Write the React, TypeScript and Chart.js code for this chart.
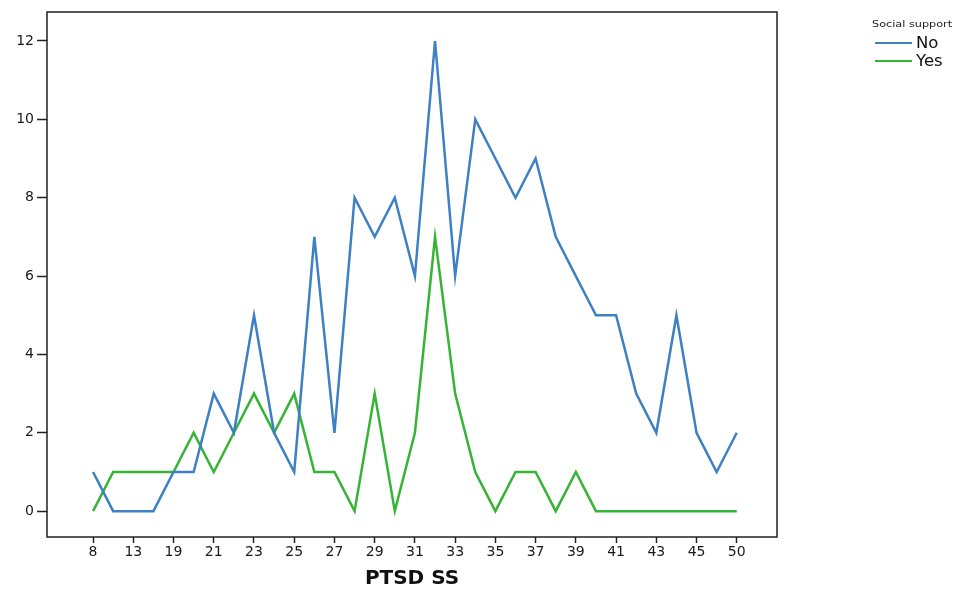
import React, { useEffect, useRef } from "react";
import { Chart, registerables } from "chart.js";

Chart.register(...registerables);

const categories = ["8", "10", "13", "16", "19", "20", "21", "22", "23", "24", "25", "26", "27", "28", "29", "30", "31", "32", "33", "34", "35", "36", "37", "38", "39", "40", "41", "42", "43", "44", "45", "48", "50"];
const noSupport = [1, 0, 0, 0, 1, 1, 3, 2, 5, 2, 1, 7, 2, 8, 7, 8, 6, 12, 6, 10, 9, 8, 9, 7, 6, 5, 5, 3, 2, 5, 2, 1, 2];
const yesSupport = [0, 1, 1, 1, 1, 2, 1, 2, 3, 2, 3, 1, 1, 0, 3, 0, 2, 7, 3, 1, 0, 1, 1, 0, 1, 0, 0, 0, 0, 0, 0, 0, 0];
const yTicks = [0, 2, 4, 6, 8, 10, 12];
const seriesNames = ["No", "Yes"];
const legendTitle = "Social support";
const xTitle = "PTSD SS";

const BLUE = "#3d80c4";
const GREEN = "#35b435";
const FONT = "DejaVu Sans, Liberation Sans, Arial";

const boxPlugin = {
  id: "box",
  afterDraw(chart: any) {
    const { ctx, chartArea } = chart;
    ctx.save();
    ctx.strokeStyle = "#222";
    ctx.lineWidth = 1.5;
    ctx.strokeRect(chartArea.left, chartArea.top, chartArea.right - chartArea.left, chartArea.bottom - chartArea.top);
    ctx.restore();
  },
};

export default function App() {
  const ref = useRef<HTMLCanvasElement | null>(null);
  useEffect(() => {
    if (!ref.current) return;
    const chart = new Chart(ref.current, {
      type: "line",
      data: {
        datasets: [
          {
            label: seriesNames[0],
            data: noSupport.map((v, i) => ({ x: i, y: v })),
            borderColor: BLUE,
            borderWidth: 2.5,
            pointRadius: 0,
            tension: 0,
          },
          {
            label: seriesNames[1],
            data: yesSupport.map((v, i) => ({ x: i, y: v })),
            borderColor: GREEN,
            borderWidth: 2.5,
            pointRadius: 0,
            tension: 0,
          },
        ],
      },
      options: {
        animation: false,
        responsive: false,
        maintainAspectRatio: false,
        layout: { padding: { top: 12, right: 182, left: 0, bottom: 0 } },
        plugins: { legend: { display: false }, tooltip: { enabled: false } },
        scales: {
          x: {
            type: "linear",
            min: -2.29,
            max: 34,
            afterBuildTicks: (scale: any) => {
              scale.ticks = categories.map((_, i) => ({ value: i })).filter((t) => t.value % 2 === 0);
            },
            afterFit: (scale: any) => {
              scale.height = 54;
            },
            ticks: {
              autoSkip: false,
              maxRotation: 0,
              padding: 1,
              color: "#1a1a1a",
              font: { family: FONT, size: 14 },
              callback: (v: any) => categories[v] ?? "",
            },
            grid: { display: true, drawOnChartArea: false, tickLength: 6, tickColor: "#222", tickWidth: 1.5 },
            border: { display: false },
            title: {
              display: true,
              text: xTitle,
              color: "#111",
              padding: { top: 4, bottom: 0 },
              font: { family: FONT, size: 20, weight: "bold" },
            },
          },
          y: {
            type: "linear",
            min: -0.66,
            max: 12.74,
            afterBuildTicks: (scale: any) => {
              scale.ticks = yTicks.map((v) => ({ value: v }));
            },
            afterFit: (scale: any) => {
              scale.width = 47;
            },
            ticks: {
              padding: 3,
              color: "#1a1a1a",
              font: { family: FONT, size: 14 },
            },
            grid: { display: true, drawOnChartArea: false, tickLength: 10, tickColor: "#222", tickWidth: 1.5 },
            border: { display: false },
          },
        },
      },
      plugins: [boxPlugin],
    } as any);
    return () => chart.destroy();
  }, []);

  const legendItem = (name: string, color: string, top: number) => (
    <div style={{ position: "absolute", left: 875, top, display: "flex", alignItems: "center", fontFamily: FONT, fontSize: 15, color: "#111" }}>
      <div style={{ width: 37, height: 2, background: color, marginRight: 4 }} />
      <span style={{ display: "inline-block", transform: "scaleX(1.1)", transformOrigin: "left center" }}>{name}</span>
    </div>
  );

  return (
    <div style={{ position: "absolute", left: 0, top: 0, width: 959, height: 591, background: "#fff" }}>
      <canvas ref={ref} width={959} height={591} style={{ position: "absolute", left: 0, top: 0 }} />
      <div style={{ position: "absolute", left: 872, top: 19, fontFamily: FONT, fontSize: 9, color: "#222", transform: "scaleX(1.25)", transformOrigin: "left top", whiteSpace: "nowrap" }}>{legendTitle}</div>
      {legendItem(seriesNames[0], BLUE, 34)}
      {legendItem(seriesNames[1], GREEN, 52)}
    </div>
  );
}
